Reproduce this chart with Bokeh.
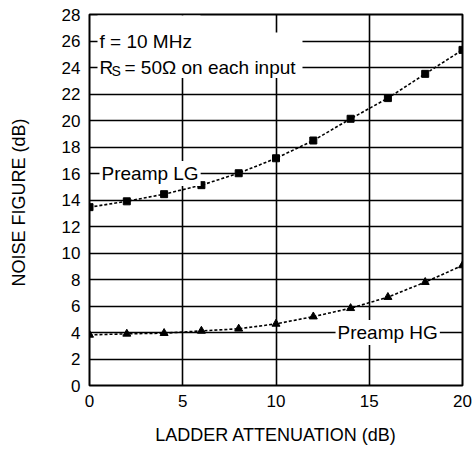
from bokeh.plotting import figure
from bokeh.models import FixedTicker, Label, BoxAnnotation, Range1d
from bokeh.embed import file_html
from bokeh.resources import INLINE

# Noise figure vs ladder attenuation, f = 10 MHz, Rs = 50 ohm on each input
attenuation_db = [0, 2, 4, 6, 8, 10, 12, 14, 16, 18, 20]
nf_preamp_lg = [13.46, 13.9, 14.44, 15.12, 16.02, 17.15, 18.49, 20.13, 21.69, 23.52, 25.33]
nf_preamp_hg = [3.82, 3.9, 3.95, 4.12, 4.28, 4.65, 5.2, 5.83, 6.67, 7.8, 9.06]

x_ticks = [0, 5, 10, 15, 20]
x_grid = [5, 10, 15]
y_ticks = [0, 2, 4, 6, 8, 10, 12, 14, 16, 18, 20, 22, 24, 26, 28]

FONT = "Liberation Sans"

p = figure(
    width=473, height=452,
    x_range=Range1d(0, 20), y_range=Range1d(0, 28),
    output_backend="svg", toolbar_location=None,
    min_border_left=89, min_border_right=11,
    min_border_top=14, min_border_bottom=67,
)
p.title.visible = False
p.background_fill_color = "white"
p.border_fill_color = "white"
p.outline_line_color = "black"
p.outline_line_width = 2

# grid: solid black lines
p.xgrid.ticker = FixedTicker(ticks=x_grid)
p.ygrid.ticker = FixedTicker(ticks=y_ticks)
for g in (p.xgrid, p.ygrid):
    g.grid_line_color = "black"
    g.grid_line_width = 1.6
    g.grid_line_alpha = 1.0

# axes: labels only, frame outline acts as axis line
p.xaxis.ticker = FixedTicker(ticks=x_ticks)
p.yaxis.ticker = FixedTicker(ticks=y_ticks)
for ax in (p.xaxis, p.yaxis):
    ax.axis_line_color = None
    ax.major_tick_line_color = None
    ax.minor_tick_line_color = None
    ax.major_tick_out = 0
    ax.major_tick_in = 0
    ax.major_label_text_font = FONT
    ax.major_label_text_font_size = "17px"
    ax.major_label_text_color = "black"
    ax.axis_label_text_font = FONT
    ax.axis_label_text_font_size = "18px"
    ax.axis_label_text_font_style = "normal"
    ax.axis_label_text_color = "black"

p.xaxis.axis_label = "LADDER ATTENUATION (dB)"
p.yaxis.axis_label = "NOISE FIGURE  (dB)"
p.xaxis.major_label_standoff = 9
p.xaxis.axis_label_standoff = 15
p.yaxis.major_label_standoff = 9
p.yaxis.axis_label_standoff = 30

# curves
p.line(attenuation_db, nf_preamp_lg, line_color="black", line_width=1.6, line_dash="3 2")
p.scatter(attenuation_db, nf_preamp_lg, marker="square", size=7, color="black")
p.line(attenuation_db, nf_preamp_hg, line_color="black", line_width=1.6, line_dash="3 2")
p.scatter(attenuation_db, nf_preamp_hg, marker="triangle", size=8, color="black")

# white panels behind the condition notes
p.add_layout(BoxAnnotation(left=0.43, right=5.95, bottom=26.5, top=27.93,
                           fill_color="white", fill_alpha=1.0, line_alpha=0))
p.add_layout(BoxAnnotation(left=0.43, right=11.42, bottom=23.2, top=26.64,
                           fill_color="white", fill_alpha=1.0, line_alpha=0))

note_style = dict(text_font=FONT, text_font_size="19px", text_color="black")

p.add_layout(Label(x=0, y=26, x_offset=10, text="f = 10 MHz",
                   text_baseline="alphabetic", **note_style))
p.add_layout(Label(x=0, y=24, x_offset=10, text="R",
                   text_baseline="alphabetic", **note_style))
p.add_layout(Label(x=0, y=24, x_offset=22, y_offset=-3, text="S",
                   text_baseline="alphabetic", text_font=FONT,
                   text_font_size="14px", text_color="black"))
p.add_layout(Label(x=0, y=24, x_offset=35, text="= 50\u03a9 on each input",
                   text_baseline="alphabetic", **note_style))

# curve names, set on a white patch over the grid line
p.add_layout(Label(x=0, y=16, x_offset=10, text="Preamp LG",
                   text_baseline="middle", background_fill_color="white",
                   padding=2, **note_style))
p.add_layout(Label(x=13.3, y=4, x_offset=-2, text="Preamp HG",
                   text_baseline="middle", background_fill_color="white",
                   padding=2, **note_style))

open("out.html", "w").write(file_html(p, INLINE))
